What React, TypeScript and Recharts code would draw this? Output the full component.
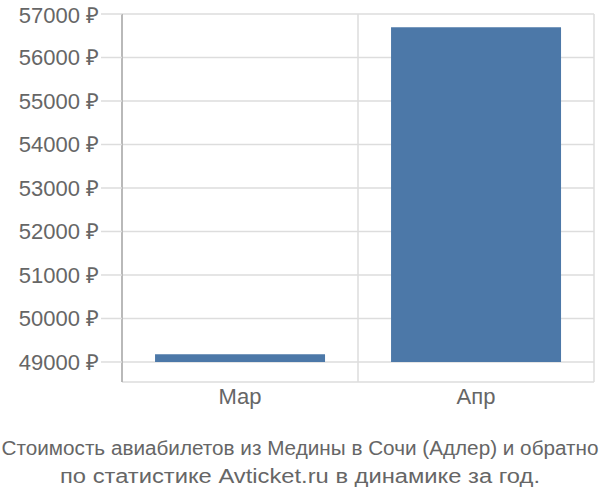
import React from "react";
import { BarChart, Bar, XAxis, YAxis, CartesianGrid } from "recharts";

const months = ["Мар", "Апр"];
const prices = [49177, 56694];
const baseValue = 49000;
const yTicks = [49000, 50000, 51000, 52000, 53000, 54000, 55000, 56000, 57000];
const titleLines = [
  "Стоимость авиабилетов из Медины в Сочи (Адлер) и обратно",
  "по статистике Avticket.ru в динамике за год.",
];

const data = months.map((m, i) => ({ month: m, range: [baseValue, prices[i]] }));

const FONT = "'Liberation Sans', Arial, sans-serif";

export default function App() {
  return (
    <div style={{ position: "fixed", left: 0, top: 0, width: 600, height: 500, background: "#fff" }}>
      <BarChart
        width={600}
        height={500}
        data={data}
        margin={{ top: 14, right: 6, bottom: 78, left: 0 }}
        barCategoryGap="14%"
      >
        <CartesianGrid
          stroke="#dddddd"
          strokeWidth={1.5}
          verticalCoordinatesGenerator={({ offset }: any) => [
            offset.left,
            offset.left + offset.width / 2,
            offset.left + offset.width,
          ]}
        />
        <XAxis
          dataKey="month"
          axisLine={false}
          tickLine={false}
          height={40}
          tickSize={0}
          tickMargin={6}
          tick={{ fill: "#666666", fontSize: 22, fontFamily: FONT }}
        />
        <YAxis
          width={122}
          domain={[48540, 57000]}
          ticks={yTicks}
          allowDataOverflow
          axisLine={{ stroke: "#aaaaaa", strokeWidth: 1.5 }}
          tickLine={{ stroke: "#dddddd", strokeWidth: 1.5 }}
          tickSize={21}
          tickMargin={2}
          tickFormatter={(v: number) => `${v} ₽`}
          tick={{ fill: "#666666", fontSize: 22, fontFamily: FONT }}
        />
        <Bar dataKey="range" fill="#4c78a8" isAnimationActive={false} />
      </BarChart>
      <svg
        width={600}
        height={500}
        style={{ position: "absolute", left: 0, top: 0, pointerEvents: "none" }}
      >
        <text
          x={300}
          y={455}
          textAnchor="middle"
          fill="#666666"
          fontSize={20}
          fontFamily={FONT}
          textLength={597}
          lengthAdjust="spacingAndGlyphs"
        >
          {titleLines[0]}
        </text>
        <text
          x={300}
          y={483}
          textAnchor="middle"
          fill="#666666"
          fontSize={20}
          fontFamily={FONT}
          textLength={480}
          lengthAdjust="spacingAndGlyphs"
        >
          {titleLines[1]}
        </text>
      </svg>
    </div>
  );
}
